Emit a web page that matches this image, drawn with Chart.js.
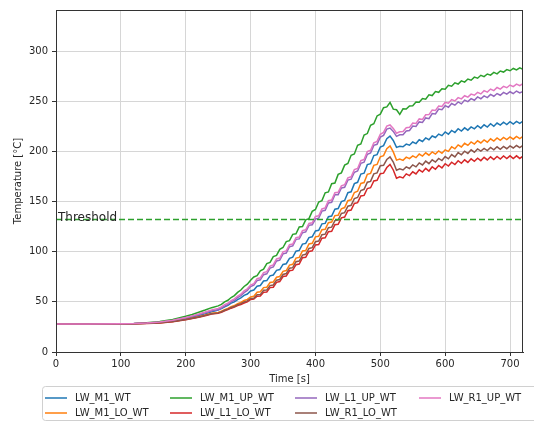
<!DOCTYPE html>
<html>
<head>
<meta charset="utf-8">
<script src="https://cdn.jsdelivr.net/npm/chart.js@4.4.1/dist/chart.umd.min.js"></script>
<style>
  html, body { margin: 0; padding: 0; background: #fff; }
  canvas { display: block; }
</style>
</head>
<body>
<canvas id="chart" width="534" height="423"></canvas>
<script>
// time axis [s]
const timeS = [0, 50, 100, 120, 140, 160, 180, 200, 210, 220, 230, 240,
  250, 255, 260, 265, 270, 275, 280, 285, 290, 295,
  300, 305, 310, 315, 320, 325, 330, 335, 340, 345,
  350, 355, 360, 365, 370, 375, 380, 385, 390, 395,
  400, 405, 410, 415, 420, 425, 430, 435, 440, 445,
  450, 455, 460, 465, 470, 475, 480, 485, 490, 495,
  500, 505, 510, 515, 520, 525, 530, 535, 540, 545,
  550, 555, 560, 565, 570, 575, 580, 585, 590, 595,
  600, 605, 610, 615, 620, 625, 630, 635, 640, 645,
  650, 655, 660, 665, 670, 675, 680, 685, 690, 695,
  700, 705, 710, 715, 720];

const lwM1Wt = [28, 28, 28.1, 28.2, 28.7, 29.4, 30.9, 33.4, 34.8, 36.3, 38, 40,
  41.8, 43.2, 45.1, 46.5, 48.7, 50.0, 52.3, 54.0, 56.4, 57.8,
  60.9, 61.8, 65.6, 66.3, 70.8, 71.2, 75.9, 76.8, 81.4, 82.2,
  87.3, 88.0, 93.4, 94.6, 100.5, 101.3, 107.6, 108.3, 114.1, 114.9,
  120.7, 121.3, 127.8, 128.2, 134.9, 135.6, 142.4, 143.0, 149.9, 151.1,
  158.8, 159.7, 167.9, 169.2, 177.4, 178.3, 186.8, 187.7, 195.9, 196.8,
  204.4, 205.8, 212.6, 215.3, 210.9, 204.0, 205.1, 204.6, 207.3, 206.2,
  209.4, 207.8, 211.6, 209.9, 213.5, 211.7, 215.4, 213.9, 217.3, 215.7,
  219.4, 217.2, 220.9, 218.8, 222.6, 220.3, 223.5, 221.2, 224.4, 222.5,
  225.6, 223.2, 226.5, 224.3, 227.6, 225.1, 228.3, 226.2, 229.1, 226.8,
  229.6, 227.3, 230.0, 227.9, 230.2];

const lwM1LoWt = [28, 28, 28, 28.2, 28.6, 29.2, 30.5, 32.6, 33.8, 35.2, 36.8, 38.6,
  39.5, 40.6, 42.2, 43.4, 45.2, 46.3, 48.2, 49.4, 51.3, 52.4,
  54.9, 55.6, 59.6, 60.1, 64.2, 64.6, 69.3, 69.8, 74.5, 75.3,
  80.4, 81.2, 86.6, 87.5, 93.6, 94.3, 100.7, 101.2, 107.7, 108.4,
  114.8, 115.3, 121.9, 122.4, 128.9, 129.6, 136.0, 136.4, 142.8, 144.0,
  150.9, 151.8, 159.0, 160.3, 168.1, 169.0, 177.2, 178.1, 186.1, 187.0,
  194.6, 195.8, 202.7, 205.4, 199.5, 191.3, 192.4, 191.1, 194.3, 192.8,
  195.5, 193.8, 197.4, 195.3, 198.6, 196.2, 199.5, 197.3, 200.4, 198.1,
  201.6, 200.1, 204.7, 202.6, 206.5, 204.4, 208.1, 206.0, 209.5, 207.3,
  210.6, 208.4, 211.5, 209.2, 212.6, 210.3, 213.4, 211.0, 213.9, 211.8,
  214.5, 212.2, 215.0, 212.8, 214.9];

const lwM1UpWt = [28, 28, 28.1, 28.4, 29.1, 30.3, 32.4, 35.6, 37.4, 39.6, 41.8, 44.2,
  46.0, 47.5, 50.0, 51.6, 54.3, 56.2, 59.4, 61.8, 65.3, 67.6,
  71.5, 74.8, 76.2, 80.9, 82.6, 88.1, 89.4, 95.2, 96.3, 102.4,
  104.2, 110.1, 111.0, 117.3, 117.8, 124.6, 125.1, 131.8, 133.0, 140.2,
  142.1, 149.6, 150.9, 158.7, 159.6, 167.8, 168.4, 177.1, 178.6, 186.3,
  188.0, 196.2, 197.4, 206.1, 207.5, 216.3, 217.8, 226.0, 227.6, 235.4,
  237.2, 243.6, 244.4, 248.8, 242.1, 241.5, 236.9, 242.4, 242.2, 245.3,
  245.6, 249.3, 249.0, 252.8, 252.1, 256.4, 255.7, 259.6, 258.9, 262.5,
  262.1, 265.9, 265.0, 268.4, 267.2, 270.3, 269.1, 272.2, 271.0, 274.1,
  273.0, 275.9, 274.6, 277.2, 276.1, 278.8, 277.3, 280.2, 279.1, 281.6,
  280.4, 282.7, 281.2, 283.4, 281.9];

const lwL1LoWt = [28, 28, 28, 28.2, 28.5, 29, 30.2, 32.2, 33.3, 34.6, 36.1, 37.8,
  38.5, 39.6, 41.1, 42.2, 43.7, 44.8, 46.3, 47.4, 48.9, 50.0,
  52.4, 52.7, 55.6, 55.8, 59.6, 59.9, 64.2, 64.6, 69.5, 70.2,
  75.3, 75.8, 81.0, 81.6, 87.1, 87.7, 94.0, 94.4, 100.2, 100.9,
  106.8, 107.2, 113.4, 113.8, 119.9, 120.4, 126.9, 127.4, 133.8, 134.6,
  140.9, 141.6, 148.1, 148.9, 155.6, 156.1, 163.0, 163.8, 170.5, 171.2,
  177.8, 178.3, 183.9, 187.1, 181.5, 173.2, 174.6, 173.6, 177.6, 175.9,
  179.7, 177.6, 181.6, 179.4, 183.1, 180.4, 184.6, 182.2, 186.0, 183.5,
  187.7, 185.4, 189.2, 186.9, 190.7, 188.1, 191.6, 189.0, 192.6, 190.1,
  193.2, 190.8, 194.1, 191.5, 194.6, 191.9, 195.0, 192.4, 195.5, 192.8,
  195.6, 192.9, 195.6, 193.0, 195.4];

const lwL1UpWt = [28, 28, 28.1, 28.3, 28.8, 29.6, 31.3, 34, 35.5, 37.2, 39.1, 41.2,
  42.2, 43.9, 45.8, 47.4, 49.9, 51.6, 54.2, 56.3, 59.2, 61.5,
  65.3, 66.6, 71.2, 72.0, 77.1, 78.0, 83.6, 84.9, 90.8, 91.6,
  97.9, 98.7, 105.0, 105.8, 112.3, 112.8, 119.0, 119.7, 126.3, 126.9,
  132.6, 133.4, 140.5, 141.3, 148.6, 149.2, 156.8, 156.9, 163.5, 164.2,
  171.4, 172.3, 179.2, 180.5, 188.1, 189.2, 197.2, 198.4, 206.0, 207.1,
  214.3, 216.0, 222.2, 223.3, 219.9, 215.0, 216.6, 216.7, 220.4, 220.8,
  225.3, 224.8, 229.4, 228.8, 233.4, 232.7, 237.8, 237.4, 242.2, 241.5,
  245.6, 244.0, 247.8, 246.1, 249.3, 247.4, 251.2, 249.6, 252.6, 251.0,
  254.3, 252.5, 255.4, 253.6, 256.8, 255.0, 257.7, 256.0, 258.8, 257.1,
  259.5, 257.6, 260.2, 258.3, 259.9];

const lwR1LoWt = [28, 28, 28, 28.2, 28.6, 29.1, 30.4, 32.4, 33.6, 35, 36.5, 38.2,
  39.0, 40.0, 41.6, 42.7, 44.4, 45.4, 47.1, 48.2, 49.9, 51.0,
  53.4, 53.6, 57.1, 57.2, 61.6, 61.9, 66.2, 66.8, 71.6, 72.3,
  77.3, 78.2, 83.6, 84.1, 90.0, 90.7, 96.6, 97.4, 103.3, 104.0,
  109.9, 110.6, 117.0, 117.5, 123.9, 124.5, 131.0, 131.6, 138.1, 138.9,
  145.4, 146.3, 153.0, 154.1, 161.0, 162.2, 169.3, 170.1, 177.6, 178.6,
  185.7, 186.2, 191.9, 194.6, 189.4, 181.2, 182.6, 181.5, 184.6, 183.0,
  186.6, 184.6, 188.5, 186.5, 190.3, 187.8, 191.6, 189.4, 193.0, 190.9,
  194.8, 192.6, 196.8, 194.5, 198.9, 196.6, 200.2, 197.9, 201.6, 199.2,
  202.5, 200.4, 203.0, 200.8, 204.0, 201.6, 204.6, 202.1, 205.0, 202.7,
  205.5, 203.4, 205.9, 203.8, 206.0];

const lwR1UpWt = [28, 28, 28.1, 28.3, 28.9, 29.8, 31.6, 34.4, 36, 37.8, 39.8, 42,
  43.5, 45.0, 47.2, 48.6, 51.3, 53.0, 55.8, 57.6, 60.9, 63.0,
  66.8, 68.2, 73.1, 74.0, 79.2, 80.1, 85.6, 86.9, 92.8, 93.7,
  99.9, 100.8, 107.0, 107.7, 114.1, 114.6, 121.0, 121.8, 128.2, 128.9,
  135.1, 135.8, 142.6, 143.7, 150.8, 151.5, 158.9, 159.2, 165.7, 166.8,
  173.6, 174.7, 181.9, 183.0, 190.8, 191.9, 199.8, 201.1, 208.6, 210.0,
  217.1, 219.0, 225.2, 226.4, 222.9, 218.1, 219.5, 219.8, 223.6, 224.0,
  228.3, 227.9, 232.4, 231.8, 236.5, 236.7, 241.3, 240.9, 245.2, 244.8,
  249.0, 248.1, 251.7, 250.3, 253.6, 252.4, 255.5, 254.1, 257.1, 256.0,
  258.8, 257.3, 260.6, 259.1, 262.2, 260.6, 263.7, 262.1, 264.8, 263.5,
  266.2, 264.6, 267.1, 265.5, 267.6];

const seriesNames = ['LW_M1_WT', 'LW_M1_LO_WT', 'LW_M1_UP_WT', 'LW_L1_LO_WT',
  'LW_L1_UP_WT', 'LW_R1_LO_WT', 'LW_R1_UP_WT'];
const seriesValues = [lwM1Wt, lwM1LoWt, lwM1UpWt, lwL1LoWt, lwL1UpWt, lwR1LoWt, lwR1UpWt];
const threshold = 132;
const thresholdSpan = [0, 720];

const colors = ['#1f77b4', '#ff7f0e', '#2ca02c', '#d62728', '#9467bd', '#8c564b', '#e377c2'];
const textColor = '#262626';

Chart.defaults.font.family = "'DejaVu Sans', sans-serif";
Chart.defaults.font.size = 10;
Chart.defaults.color = textColor;

let datasets = seriesNames.map(function (name, i) {
  return {
    label: name,
    data: timeS.map(function (t, k) { return {x: t, y: seriesValues[i][k]}; }),
    borderColor: colors[i],
    backgroundColor: colors[i],
    borderWidth: 1.5,
    pointRadius: 0,
    tension: 0,
    order: seriesNames.length - i,
  };
});
datasets.push({
  label: 'Threshold',
  data: thresholdSpan.map(function (t) { return {x: t, y: threshold}; }),
  borderColor: '#2ca02c',
  borderWidth: 1.5,
  borderDash: [6, 3],
  pointRadius: 0,
  order: 0,
});

// axes frame, threshold label and the 4-column legend underneath
const extras = {
  id: 'extras',
  afterDatasetsDraw(chart) {
    const c = chart.ctx;
    const a = chart.chartArea;
    c.save();
    c.strokeStyle = '#333';
    c.lineWidth = 1;
    c.strokeRect(Math.round(a.left) + 0.5, Math.round(a.top) + 0.5,
      Math.round(a.right - a.left) - 1, Math.round(a.bottom - a.top));

    const xs = chart.scales.x, ys = chart.scales.y;
    c.fillStyle = textColor;
    c.font = "12px 'DejaVu Sans'";
    c.textBaseline = 'alphabetic';
    c.textAlign = 'left';
    c.fillText('Threshold', xs.getPixelForValue(thresholdSpan[0]) + 2, ys.getPixelForValue(threshold) + 1);
    c.restore();
  },
  afterDraw(chart) {
    const c = chart.ctx;
    c.save();
    c.fillStyle = 'rgba(255,255,255,0.85)';
    c.strokeStyle = '#d0d0d0';
    c.lineWidth = 1;
    c.beginPath();
    c.roundRect(42.5, 386.5, 520, 34, 3);
    c.fill();
    c.stroke();

    const colX = [45, 170, 295, 419];
    const rowY = [398, 413];
    c.font = "10px 'DejaVu Sans'";
    c.textBaseline = 'middle';
    c.textAlign = 'left';
    chart.data.datasets.slice(0, seriesNames.length).forEach(function (ds, i) {
      const x = colX[Math.floor(i / 2)];
      const y = rowY[i % 2];
      c.strokeStyle = ds.borderColor;
      c.lineWidth = 1.5;
      c.beginPath();
      c.moveTo(x, y);
      c.lineTo(x + 22, y);
      c.stroke();
      c.fillStyle = textColor;
      c.fillText(ds.label, x + 30, y);
    });
    c.restore();
  }
};

const ctx = document.getElementById('chart');
const mainChart = new Chart(ctx, {
  type: 'line',
  data: { datasets: datasets },
  options: {
    responsive: false,
    animation: false,
    devicePixelRatio: 1,
    layout: { padding: { left: 0, top: 9, right: 11, bottom: 38 } },
    plugins: {
      legend: { display: false },
      tooltip: { enabled: false },
    },
    scales: {
      x: {
        type: 'linear',
        min: 0,
        max: 720,
        afterFit: function (scale) { scale.height = 33; },
        ticks: { stepSize: 100, includeBounds: false, padding: 2, maxRotation: 0 },
        grid: { color: '#d6d6d6', tickColor: '#333', tickLength: 4 },
        border: { color: '#333' },
        title: { display: true, text: 'Time [s]', padding: { top: 2, bottom: 0 } },
      },
      y: {
        type: 'linear',
        min: 0,
        max: 341,
        afterFit: function (scale) { scale.width = 56; },
        ticks: { stepSize: 50, includeBounds: false, padding: 4 },
        grid: { color: '#d6d6d6', tickColor: '#333', tickLength: 4 },
        border: { color: '#333' },
        title: { display: true, text: 'Temperature [°C]', padding: { top: 12, bottom: 0 } },
      },
    },
  },
  plugins: [extras],
});
</script>
</body>
</html>
